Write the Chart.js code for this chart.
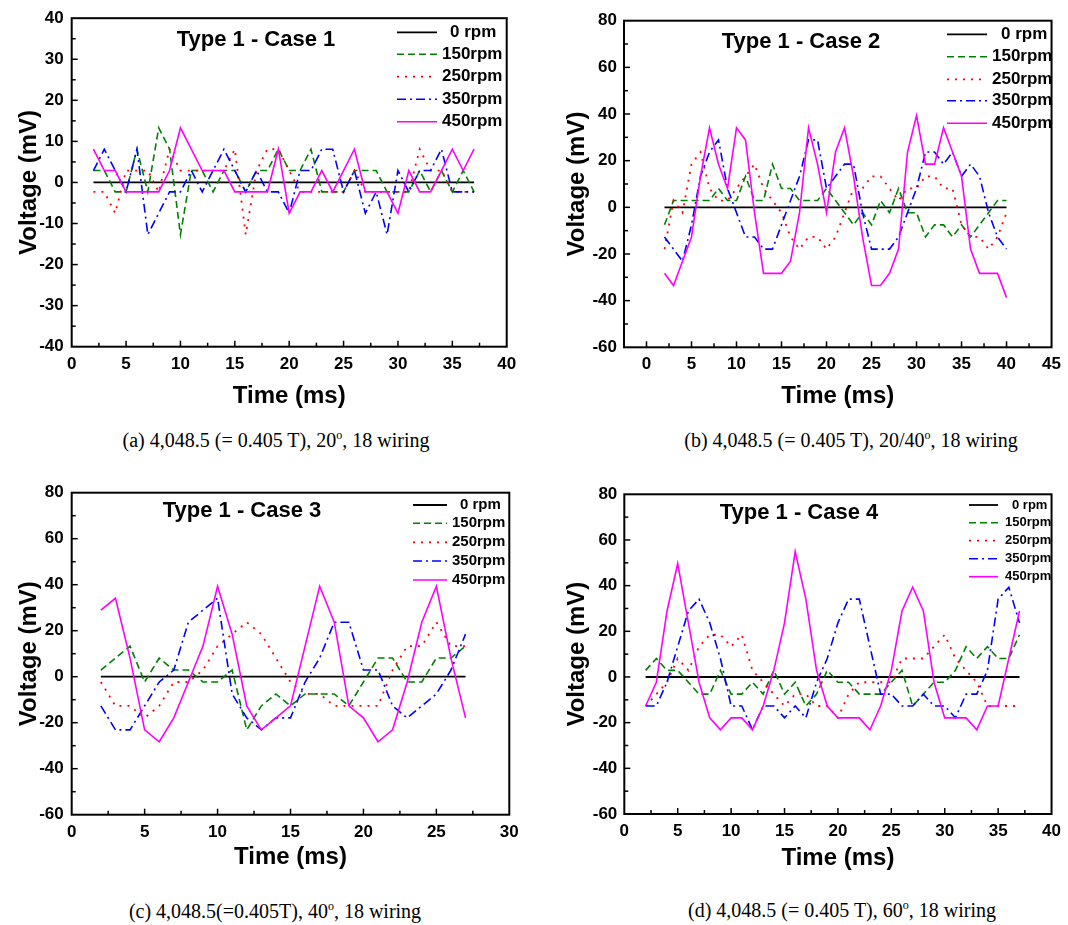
<!DOCTYPE html>
<html>
<head>
<meta charset="utf-8">
<script src="https://cdn.jsdelivr.net/npm/chart.js@4.4.0/dist/chart.umd.min.js"></script>
<style>
  body { margin: 0; background: #fff; width: 1068px; height: 925px; position: relative; overflow: hidden; }
  canvas { position: absolute; }
  .cap { position: absolute; font-family: "Liberation Serif", "Times New Roman", serif; font-size: 20px; color: #000;
         white-space: nowrap; transform: translate(-50%, -50%); }
  .cap sup { font-size: 0.6em; }
</style>
</head>
<body>
<canvas id="c1" width="540" height="420" style="left:0;top:0"></canvas>
<canvas id="c2" width="508" height="420" style="left:560px;top:0"></canvas>
<canvas id="c3" width="540" height="420" style="left:0;top:460px"></canvas>
<canvas id="c4" width="508" height="420" style="left:560px;top:460px"></canvas>
<div class="cap" style="left:276px;top:440px">(a) 4,048.5 (= 0.405 T), 20<sup>o</sup>, 18 wiring</div>
<div class="cap" style="left:851px;top:440px">(b) 4,048.5 (= 0.405 T), 20/40<sup>o</sup>, 18 wiring</div>
<div class="cap" style="left:275px;top:911px">(c) 4,048.5(=0.405T), 40<sup>o</sup>, 18 wiring</div>
<div class="cap" style="left:842px;top:910px">(d) 4,048.5 (= 0.405 T), 60<sup>o</sup>, 18 wiring</div>
<script>
// time axes (ms)
const time1 = [2,3,4,5,6,7,8,9,10,11,12,13,14,15,16,17,18,19,20,21,22,23,24,25,26,27,28,29,30,31,32,33,34,35,36,37];
const time2 = [2,3,4,5,6,7,8,9,10,11,12,13,14,15,16,17,18,19,20,21,22,23,24,25,26,27,28,29,30,31,32,33,34,35,36,37,38,39,40];
const time3 = [2,3,4,5,6,7,8,9,10,11,12,13,14,15,16,17,18,19,20,21,22,23,24,25,26,27];
const time4 = [2,3,4,5,6,7,8,9,10,11,12,13,14,15,16,17,18,19,20,21,22,23,24,25,26,27,28,29,30,31,32,33,34,35,36,37];

const seriesNames = ['0 rpm', '150rpm', '250rpm', '350rpm', '450rpm'];

// Case 1 (mV)
const zero1 = [0,0,0,0,0,0,0,0,0,0,0,0,0,0,0,0,0,0,0,0,0,0,0,0,0,0,0,0,0,0,0,0,0,0,0,0];
const rpm150_1 = [2.9,2.9,-2.3,-2.3,8.1,-2.3,13.3,8.1,-12.7,2.9,2.9,-2.3,2.9,2.9,-2.3,2.9,2.9,8.1,2.9,2.9,8.1,-2.3,-2.3,-2.3,2.9,2.9,2.9,-2.3,-2.3,-2.3,2.9,-2.3,2.9,-2.3,2.9,-2.3];
const rpm250_1 = [-2.3,-2.3,-7.5,2.9,2.9,2.9,-2.3,8.1,2.9,2.9,2.9,2.9,2.9,8.1,-12.7,2.9,8.1,8.1,2.9,-2.3,-2.3,-2.3,-2.3,-2.3,2.9,-2.3,-2.3,-2.3,-2.3,-2.3,8.1,2.9,2.9,-2.3,-2.3,-2.3];
const rpm350_1 = [2.9,8.1,2.9,-2.3,8.1,-12.7,-7.5,-2.3,-2.3,2.9,-2.3,2.9,8.1,2.9,-2.3,2.9,-2.3,-2.3,-7.5,2.9,2.9,8.1,8.1,-2.3,2.9,-7.5,-2.3,-12.7,2.9,-2.3,2.9,2.9,8.1,-2.3,-2.3,-2.3];
const rpm450_1 = [8.1,2.9,2.9,-2.3,-2.3,-2.3,-2.3,2.9,13.3,8.1,2.9,2.9,2.9,-2.3,-2.3,-2.3,-2.3,8.1,-7.5,-2.3,-2.3,2.9,-2.3,2.9,8.1,-2.3,-2.3,-2.3,-7.5,2.9,-2.3,-2.3,2.9,8.1,2.9,8.1];

// Case 2 (mV)
const zero2 = [0,0,0,0,0,0,0,0,0,0,0,0,0,0,0,0,0,0,0,0,0,0,0,0,0,0,0,0,0,0,0,0,0,0,0,0,0,0,0];
const rpm150_2 = [-7.5,2.9,2.9,2.9,2.9,2.9,8.1,2.9,2.9,13.3,2.9,2.9,18.5,8.1,8.1,2.9,2.9,2.9,8.1,2.9,-2.3,-7.5,-2.3,-7.5,2.9,-2.3,8.1,-2.3,-2.3,-12.7,-7.5,-7.5,-12.7,-7.5,-12.7,-7.5,-2.3,2.9,2.9];
const rpm250_2 = [-17.9,2.9,-2.3,18.5,23.7,8.1,2.9,2.9,8.1,13.3,18.5,8.1,2.9,-2.3,-12.7,-17.9,-12.7,-12.7,-17.9,-12.7,-2.3,8.1,8.1,13.3,13.3,8.1,2.9,8.1,8.1,13.3,13.3,8.1,8.1,-7.5,-12.7,-12.7,-17.9,-12.7,-2.3];
const rpm350_2 = [-12.7,-17.9,-23.1,-7.5,13.3,23.7,28.9,8.1,-2.3,-12.7,-12.7,-17.9,-17.9,-7.5,2.9,13.3,28.9,28.9,8.1,13.3,18.5,18.5,-2.3,-17.9,-17.9,-17.9,-12.7,-2.3,8.1,23.7,23.7,18.5,23.7,13.3,18.5,13.3,-2.3,-12.7,-17.9];
const rpm450_2 = [-28.3,-33.5,-23.1,-12.7,13.3,34.1,18.5,8.1,34.1,28.9,-2.3,-28.3,-28.3,-28.3,-23.1,-2.3,34.1,18.5,-2.3,23.7,34.1,13.3,-12.7,-33.5,-33.5,-28.3,-17.9,23.7,39.3,18.5,18.5,34.1,23.7,13.3,-17.9,-28.3,-28.3,-28.3,-38.7];

// Case 3 (mV)
const zero3 = [0,0,0,0,0,0,0,0,0,0,0,0,0,0,0,0,0,0,0,0,0,0,0,0,0,0];
const rpm150_3 = [2.9,8.1,13.3,-2.3,8.1,2.9,2.9,-2.3,-2.3,2.9,-23.1,-12.7,-7.5,-12.7,-7.5,-7.5,-7.5,-12.7,-2.3,8.1,8.1,-2.3,-2.3,8.1,8.1,13.3];
const rpm250_3 = [-2.3,-12.7,-12.7,-17.9,-12.7,-2.3,-2.3,2.9,13.3,18.5,23.7,18.5,8.1,-2.3,-7.5,-7.5,-12.7,-12.7,-12.7,-12.7,2.9,13.3,13.3,23.7,13.3,13.3];
const rpm350_3 = [-12.7,-23.1,-23.1,-12.7,-2.3,2.9,23.7,28.9,34.1,-7.5,-17.9,-23.1,-17.9,-17.9,-2.3,8.1,23.7,23.7,2.9,2.9,-12.7,-17.9,-12.7,-7.5,2.9,18.5];
const rpm450_3 = [28.9,34.1,8.1,-23.1,-28.3,-17.9,-2.3,13.3,39.3,18.5,-12.7,-23.1,-17.9,-12.7,13.3,39.3,23.7,-12.7,-17.9,-28.3,-23.1,-2.3,23.7,39.3,8.1,-17.9];

// Case 4 (mV)
const zero4 = [0,0,0,0,0,0,0,0,0,0,0,0,0,0,0,0,0,0,0,0,0,0,0,0,0,0,0,0,0,0,0,0,0,0,0,0];
const rpm150_4 = [2.9,8.1,2.9,2.9,-2.3,-7.5,-7.5,2.9,-7.5,-7.5,-2.3,-7.5,2.9,-7.5,-2.3,-12.7,-7.5,2.9,-2.3,-2.3,-7.5,-7.5,-7.5,-2.3,2.9,-12.7,-7.5,-2.3,-2.3,2.9,13.3,8.1,13.3,8.1,8.1,18.5];
const rpm250_4 = [-12.7,-7.5,-2.3,8.1,2.9,13.3,18.5,18.5,13.3,18.5,2.9,-2.3,-7.5,-12.7,-7.5,-7.5,-12.7,-12.7,-17.9,-7.5,-2.3,-2.3,-2.3,-2.3,8.1,8.1,8.1,13.3,18.5,8.1,2.9,-2.3,-12.7,-12.7,-12.7,-12.7];
const rpm350_4 = [-12.7,-12.7,-2.3,13.3,28.9,34.1,23.7,8.1,-12.7,-12.7,-23.1,-12.7,-12.7,-17.9,-12.7,-17.9,-2.3,8.1,23.7,34.1,34.1,13.3,-7.5,-7.5,-12.7,-12.7,-7.5,-12.7,-12.7,-17.9,-7.5,-7.5,2.9,34.1,39.3,23.7];
const rpm450_4 = [-12.7,-2.3,28.9,49.7,23.7,-2.3,-17.9,-23.1,-17.9,-17.9,-23.1,-12.7,2.9,23.7,54.9,34.1,2.9,-12.7,-17.9,-17.9,-17.9,-23.1,-12.7,2.9,28.9,39.3,28.9,-2.3,-17.9,-17.9,-17.9,-23.1,-12.7,-12.7,8.1,28.9];

const styles = [
  { color: '#000000', dash: [], width: 1.8 },
  { color: '#008000', dash: [7, 4], width: 1.6 },
  { color: '#ff0000', dash: [2, 6], width: 1.8 },
  { color: '#0000ff', dash: [9, 4, 2, 4], width: 1.6 },
  { color: '#ff00ff', dash: [], width: 1.6 }
];

const FONT = '"Liberation Sans", Arial, sans-serif';

// frame, inward ticks, panel title and legend drawn over the plot
const decor = {
  id: 'decor',
  afterDraw(chart, args, o) {
    const { ctx, chartArea: a, scales: { x, y } } = chart;
    ctx.save();
    ctx.strokeStyle = '#000';
    ctx.lineWidth = 1.5;
    ctx.setLineDash([]);
    const isMajor = (v, m) => Math.abs(v / m - Math.round(v / m)) < 1e-6;
    for (let v = Math.ceil(x.min / o.xMinor) * o.xMinor; v < x.max - 1e-6; v += o.xMinor) {
      if (v <= x.min + 1e-6) continue;
      const px = x.getPixelForValue(v);
      const len = isMajor(v, o.xMajor) ? 6 : 4;
      ctx.beginPath(); ctx.moveTo(px, a.bottom); ctx.lineTo(px, a.bottom - len); ctx.stroke();
    }
    for (let v = Math.ceil(y.min / o.yMinor) * o.yMinor; v < y.max - 1e-6; v += o.yMinor) {
      if (v <= y.min + 1e-6) continue;
      const py = y.getPixelForValue(v);
      const len = isMajor(v, o.yMajor) ? 6 : 4;
      ctx.beginPath(); ctx.moveTo(a.left, py); ctx.lineTo(a.left + len, py); ctx.stroke();
    }
    ctx.lineWidth = 2;
    ctx.strokeRect(a.left, a.top, a.right - a.left, a.bottom - a.top);

    ctx.fillStyle = '#000';
    ctx.font = 'bold 22px ' + FONT;
    ctx.textAlign = 'center';
    ctx.textBaseline = 'middle';
    ctx.fillText(o.title, o.titleX, o.titleY);

    ctx.font = 'bold ' + o.legFont + 'px ' + FONT;
    ctx.textAlign = 'left';
    chart.data.datasets.forEach((ds, i) => {
      const ly = o.legRows[i];
      ctx.strokeStyle = ds.borderColor;
      ctx.lineWidth = ds.borderWidth;
      ctx.setLineDash(ds.borderDash);
      ctx.beginPath(); ctx.moveTo(o.legX0, ly); ctx.lineTo(o.legX1, ly); ctx.stroke();
      ctx.setLineDash([]);
      ctx.fillText(ds.label, o.legText + (i === 0 ? o.zeroIndent : 0), ly);
    });
    ctx.restore();
  }
};

function makePanel(id, g, time, values, xr, yr) {
  const datasets = values.map((vals, i) => ({
    label: seriesNames[i],
    data: time.map((t, k) => ({ x: t, y: vals[k] })),
    borderColor: styles[i].color,
    borderDash: styles[i].dash,
    borderWidth: styles[i].width,
    pointRadius: 0,
    tension: 0,
    fill: false,
    order: 4 - i
  }));
  const H = g.h;
  new Chart(document.getElementById(id), {
    type: 'line',
    data: { datasets },
    options: {
      responsive: false,
      animation: false,
      layout: { padding: { left: 0, top: g.plotT - g.top, right: g.left + g.w - g.plotR, bottom: 0 } },
      plugins: {
        legend: { display: false },
        tooltip: { enabled: false },
        decor: {
          xMinor: xr.step / 2, xMajor: xr.step, yMinor: yr.step / 2, yMajor: yr.step,
          title: g.title, titleX: g.titleX - g.left, titleY: g.titleY - g.top,
          legX0: g.legX0 - g.left, legX1: g.legX1 - g.left, legText: g.legText - g.left,
          zeroIndent: g.zeroIndent, legFont: g.legFont,
          legRows: g.legRows.map(r => r - g.top)
        }
      },
      scales: {
        x: {
          type: 'linear', min: xr.min, max: xr.max,
          grid: { display: false, drawTicks: false },
          border: { display: false },
          ticks: { stepSize: xr.step, includeBounds: false, padding: 7, color: '#000',
                   font: { family: FONT, size: 17, weight: 'bold' } },
          title: { display: true, text: 'Time (ms)', color: '#000',
                   font: { family: FONT, size: 24, weight: 'bold' },
                   padding: { top: 0, bottom: H - (g.xTitleY - g.top) - 14.4 } },
          afterFit: s => { s.height = (g.top + H) - g.plotB; }
        },
        y: {
          type: 'linear', min: yr.min, max: yr.max,
          grid: { display: false, drawTicks: false },
          border: { display: false },
          ticks: { stepSize: yr.step, includeBounds: false, padding: g.yPad, color: '#000',
                   font: { family: FONT, size: 17, weight: 'bold' } },
          title: { display: true, text: 'Voltage (mV)', color: '#000',
                   font: { family: FONT, size: 24, weight: 'bold' },
                   padding: { top: (g.yTitleX - g.left) - 14.4, bottom: 0 } },
          afterFit: s => { s.width = g.plotL - g.left; }
        }
      }
    },
    plugins: [decor]
  });
}

makePanel('c1', {
  left: 0, top: 0, w: 540, h: 420, plotL: 71.7, plotT: 15, plotR: 506.7, plotB: 346.7,
  yTitleX: 29, xTitleY: 396, yPad: 8,
  title: 'Type 1 - Case 1', titleX: 256, titleY: 40,
  legX0: 397, legX1: 437, legText: 442, zeroIndent: 8, legFont: 17,
  legRows: [32.3, 54.3, 76.7, 99.3, 121.7]
}, time1, [zero1, rpm150_1, rpm250_1, rpm350_1, rpm450_1],
  { min: 0, max: 40, step: 5 }, { min: -40, max: 40, step: 10 });

makePanel('c2', {
  left: 560, top: 0, w: 508, h: 420, plotL: 624, plotT: 20.7, plotR: 1058, plotB: 347.3,
  yTitleX: 577, xTitleY: 396, yPad: 7,
  title: 'Type 1 - Case 2', titleX: 801, titleY: 42,
  legX0: 947, legX1: 987, legText: 992, zeroIndent: 9, legFont: 17,
  legRows: [34.3, 56.7, 79.3, 100.7, 123.3]
}, time2, [zero2, rpm150_2, rpm250_2, rpm350_2, rpm450_2],
  { min: -2.5, max: 45, step: 5 }, { min: -60, max: 80, step: 20 });

makePanel('c3', {
  left: 0, top: 460, w: 540, h: 420, plotL: 71.7, plotT: 492.7, plotR: 509.3, plotB: 814.7,
  yTitleX: 29, xTitleY: 857, yPad: 8,
  title: 'Type 1 - Case 3', titleX: 242, titleY: 511,
  legX0: 413, legX1: 447, legText: 452, zeroIndent: 8, legFont: 15,
  legRows: [505, 523.3, 542.3, 561, 580]
}, time3, [zero3, rpm150_3, rpm250_3, rpm350_3, rpm450_3],
  { min: 0, max: 30, step: 5 }, { min: -60, max: 80, step: 20 });

makePanel('c4', {
  left: 560, top: 460, w: 508, h: 420, plotL: 624.3, plotT: 494.3, plotR: 1059.4, plotB: 814,
  yTitleX: 577, xTitleY: 858, yPad: 7,
  title: 'Type 1 - Case 4', titleX: 799, titleY: 512.5,
  legX0: 969, legX1: 998, legText: 1005, zeroIndent: 7, legFont: 13,
  legRows: [505, 522.7, 540.7, 558.7, 576.7]
}, time4, [zero4, rpm150_4, rpm250_4, rpm350_4, rpm450_4],
  { min: 0, max: 40, step: 5 }, { min: -60, max: 80, step: 20 });
</script>
</body>
</html>
